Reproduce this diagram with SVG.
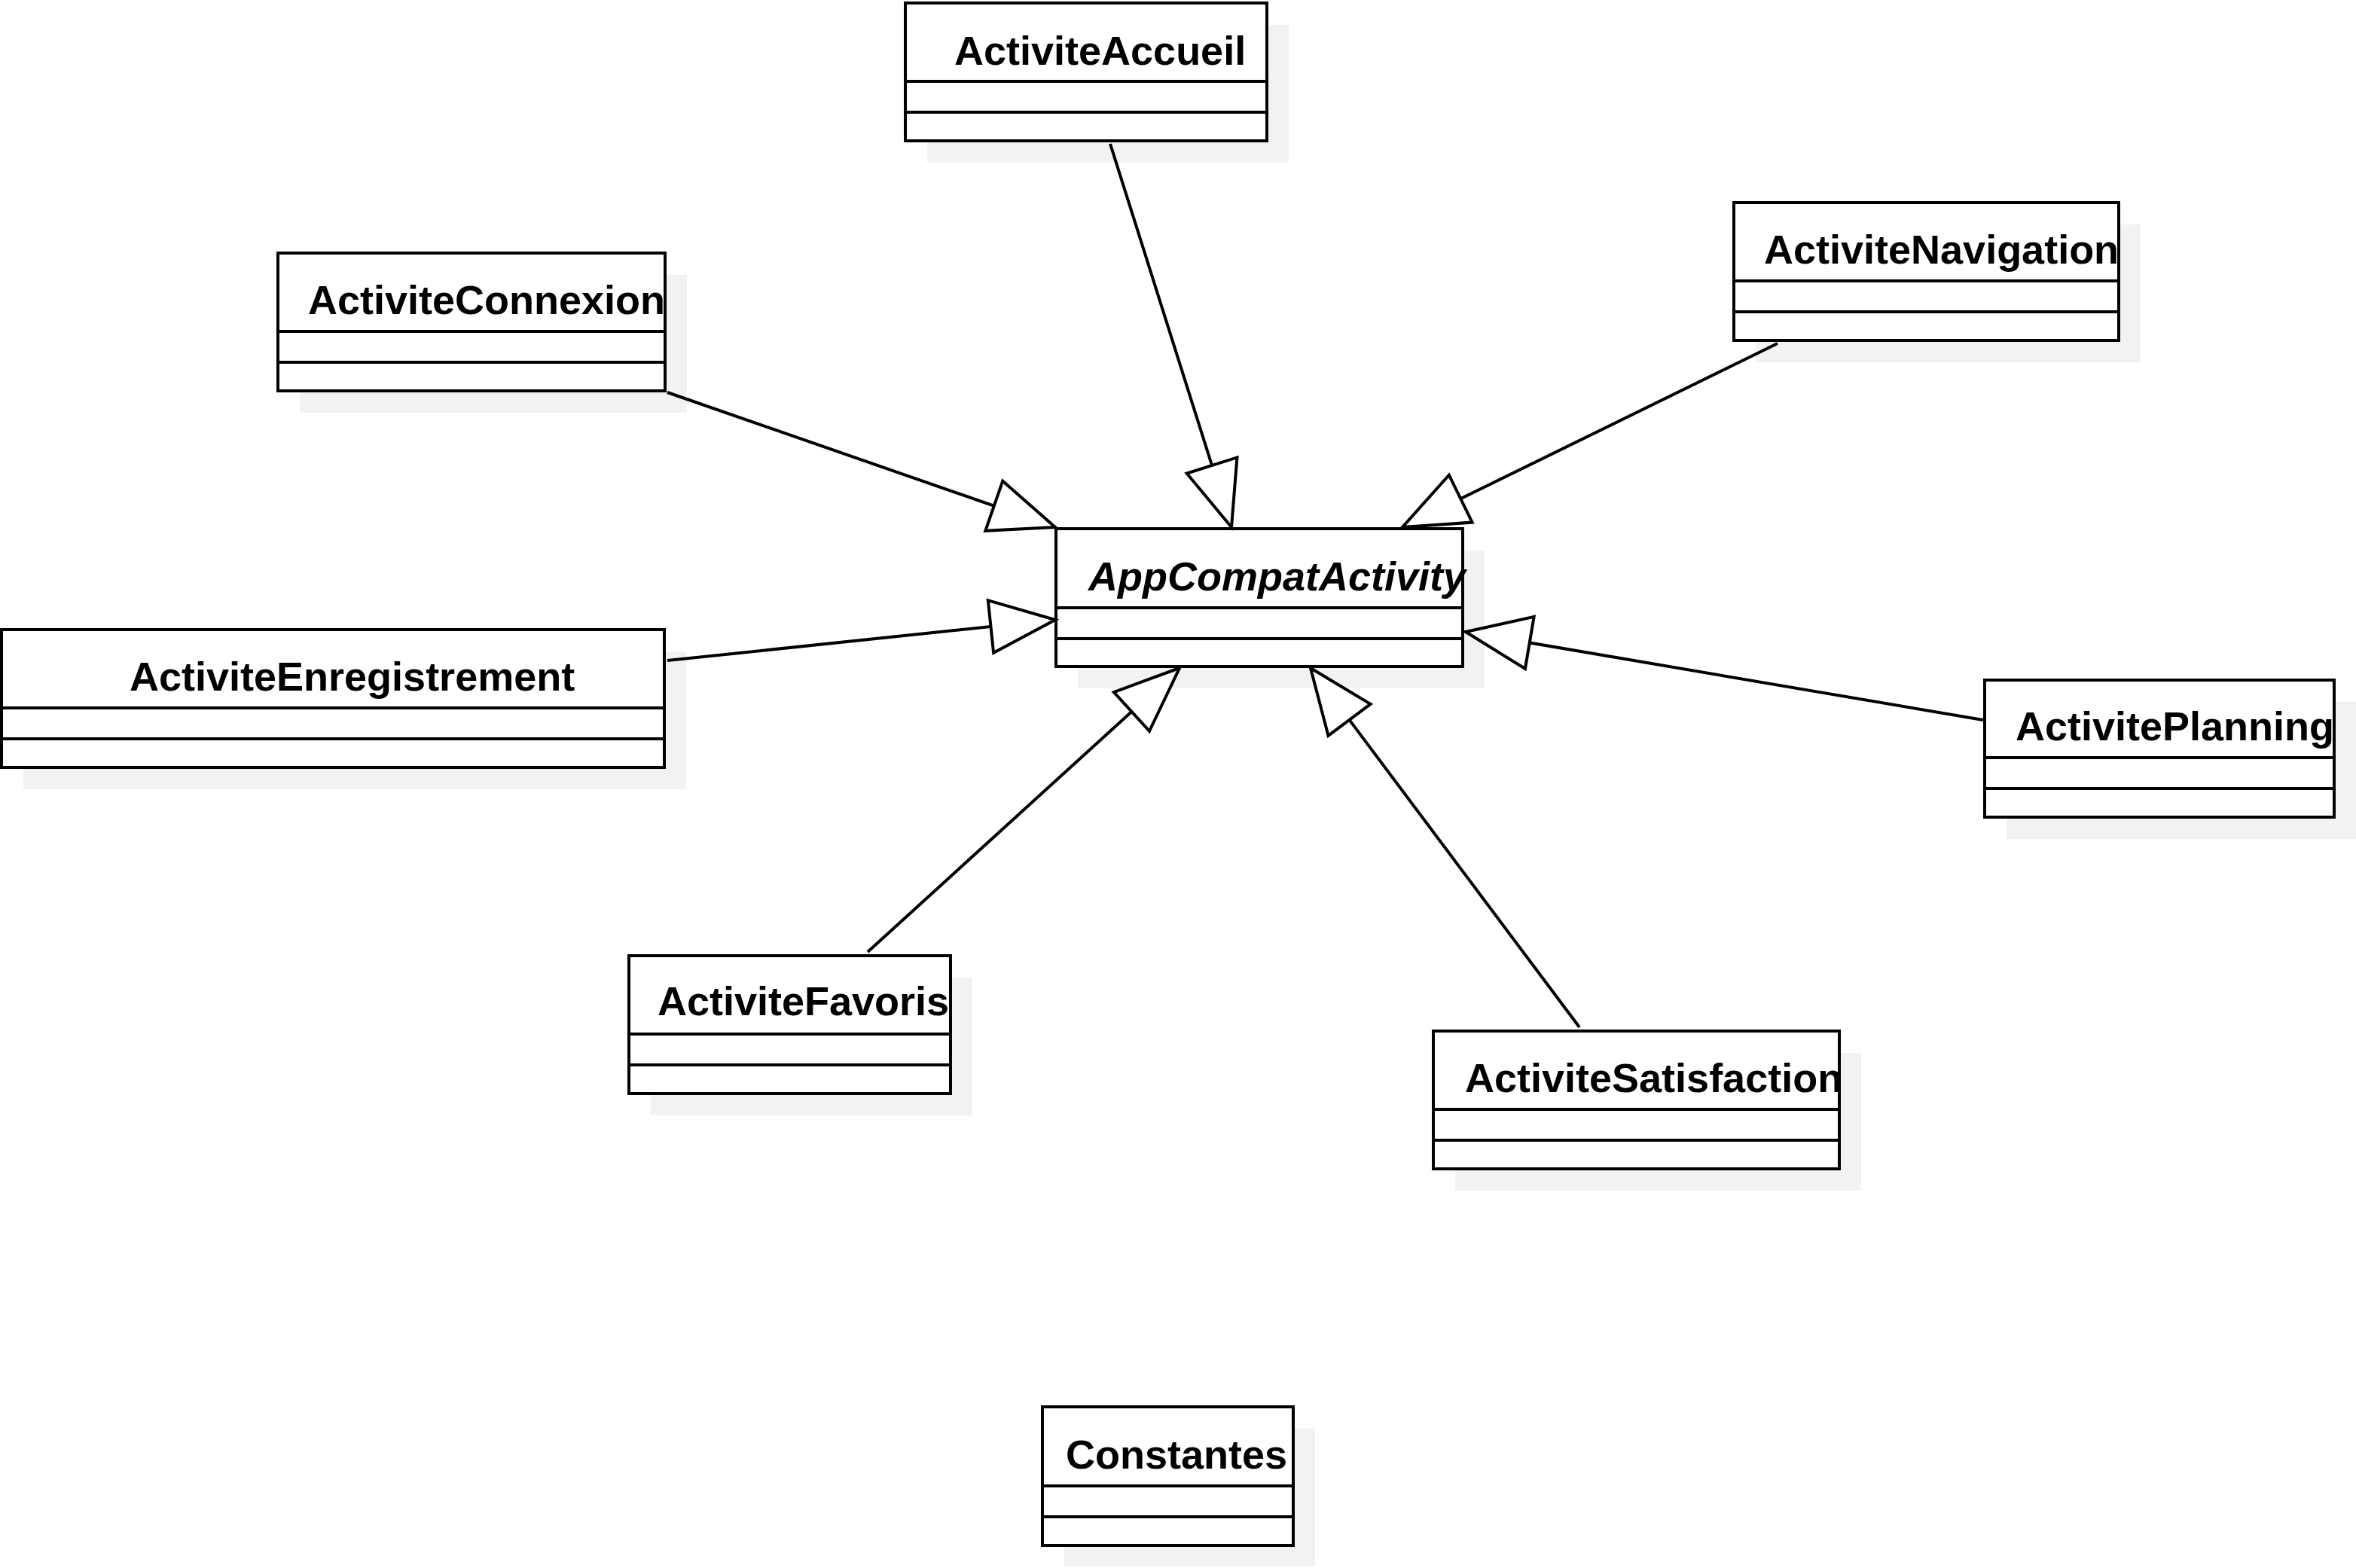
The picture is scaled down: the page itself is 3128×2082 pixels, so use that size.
<svg xmlns="http://www.w3.org/2000/svg" width="3128" height="2082" viewBox="0 0 3128 2082">
<defs>
<style>
.shadow{fill:#f2f2f2;stroke:none}
.box{fill:#ffffff;stroke:#000000;stroke-width:4}
.div{stroke:#000000;stroke-width:4}
.name{font-family:"Liberation Sans",Arial,sans-serif;font-weight:bold;font-size:54px;fill:#000000}
.abstract{font-style:italic}
.conn{fill:none;stroke:#000000;stroke-width:4}
</style>
<marker id="gen" markerUnits="userSpaceOnUse" viewBox="-94 -42 100 84" refX="0" refY="0" markerWidth="100" markerHeight="84" orient="auto" overflow="visible">
<path d="M0,0 L-86,-35 L-86,35 Z" fill="#ffffff" stroke="#000000" stroke-width="4"/>
</marker>
</defs>
<rect width="3128" height="2082" fill="#ffffff"/>

<g id="ActiviteAccueil">
<rect class="shadow" x="1231" y="33" width="480" height="183"/>
<rect class="box" x="1202" y="4" width="480" height="183"/>
<line class="div" x1="1202" y1="108" x2="1682" y2="108"/>
<line class="div" x1="1202" y1="149" x2="1682" y2="149"/>
<text class="name" x="1267" y="86">ActiviteAccueil</text>
</g>

<g id="ActiviteConnexion">
<rect class="shadow" x="398" y="365" width="514" height="183"/>
<rect class="box" x="369" y="336" width="514" height="183"/>
<line class="div" x1="369" y1="440" x2="883" y2="440"/>
<line class="div" x1="369" y1="481" x2="883" y2="481"/>
<text class="name" x="409" y="417">ActiviteConnexion</text>
</g>

<g id="ActiviteNavigation">
<rect class="shadow" x="2331" y="298" width="511" height="183"/>
<rect class="box" x="2302" y="269" width="511" height="183"/>
<line class="div" x1="2302" y1="373" x2="2813" y2="373"/>
<line class="div" x1="2302" y1="414" x2="2813" y2="414"/>
<text class="name" x="2342" y="350">ActiviteNavigation</text>
</g>

<g id="AppCompatActivity">
<rect class="shadow" x="1431" y="731" width="540" height="183"/>
<rect class="box" x="1402" y="702" width="540" height="183"/>
<line class="div" x1="1402" y1="807" x2="1942" y2="807"/>
<line class="div" x1="1402" y1="848" x2="1942" y2="848"/>
<text class="name abstract" x="1445" y="784">AppCompatActivity</text>
</g>

<g id="ActiviteEnregistrement">
<rect class="shadow" x="31" y="865" width="880" height="183"/>
<rect class="box" x="2" y="836" width="880" height="183"/>
<line class="div" x1="2" y1="940" x2="882" y2="940"/>
<line class="div" x1="2" y1="981" x2="882" y2="981"/>
<text class="name" x="172" y="917">ActiviteEnregistrement</text>
</g>

<g id="ActivitePlanning">
<rect class="shadow" x="2664" y="932" width="464" height="182"/>
<rect class="box" x="2635" y="903" width="464" height="182"/>
<line class="div" x1="2635" y1="1006" x2="3099" y2="1006"/>
<line class="div" x1="2635" y1="1047" x2="3099" y2="1047"/>
<text class="name" x="2676" y="983">ActivitePlanning</text>
</g>

<g id="ActiviteFavoris">
<rect class="shadow" x="864" y="1298" width="427" height="183"/>
<rect class="box" x="835" y="1269" width="427" height="183"/>
<line class="div" x1="835" y1="1373" x2="1262" y2="1373"/>
<line class="div" x1="835" y1="1414" x2="1262" y2="1414"/>
<text class="name" x="873" y="1348">ActiviteFavoris</text>
</g>

<g id="ActiviteSatisfaction">
<rect class="shadow" x="1932" y="1398" width="539" height="183"/>
<rect class="box" x="1903" y="1369" width="539" height="183"/>
<line class="div" x1="1903" y1="1473" x2="2442" y2="1473"/>
<line class="div" x1="1903" y1="1514" x2="2442" y2="1514"/>
<text class="name" x="1945" y="1450">ActiviteSatisfaction</text>
</g>

<g id="Constantes">
<rect class="shadow" x="1413" y="1897" width="333" height="183"/>
<rect class="box" x="1384" y="1868" width="333" height="184"/>
<line class="div" x1="1384" y1="1973" x2="1717" y2="1973"/>
<line class="div" x1="1384" y1="2014" x2="1717" y2="2014"/>
<text class="name" x="1415" y="1950">Constantes</text>
</g>

<g id="connectors">
<line class="conn" x1="1474" y1="191" x2="1635" y2="700" marker-end="url(#gen)"/>
<line class="conn" x1="886" y1="521" x2="1401" y2="700" marker-end="url(#gen)"/>
<line class="conn" x1="2360" y1="456" x2="1862" y2="700" marker-end="url(#gen)"/>
<line class="conn" x1="886" y1="877" x2="1401" y2="823" marker-end="url(#gen)"/>
<line class="conn" x1="2633" y1="956" x2="1946" y2="839" marker-end="url(#gen)"/>
<line class="conn" x1="1152" y1="1264" x2="1566" y2="887" marker-end="url(#gen)"/>
<line class="conn" x1="2097" y1="1364" x2="1740" y2="887" marker-end="url(#gen)"/>
</g>
</svg>
